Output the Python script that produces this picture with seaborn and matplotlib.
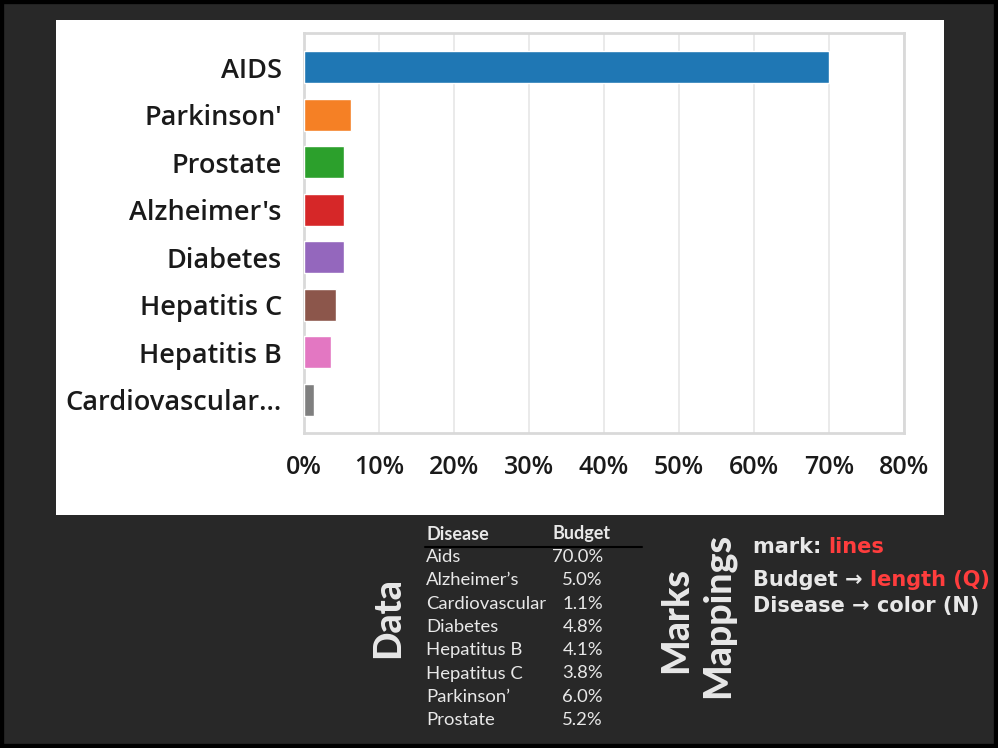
import matplotlib
matplotlib.use("Agg")
import matplotlib.pyplot as plt
from matplotlib.patches import Rectangle
from matplotlib.lines import Line2D
import seaborn as sns
import pandas as pd

# ---- data ----
chart_diseases = ["AIDS", "Parkinson'", "Prostate", "Alzheimer's", "Diabetes",
                  "Hepatitis C", "Hepatitis B", "Cardiovascular…"]
chart_budget = [70.0, 6.2, 5.3, 5.3, 5.3, 4.2, 3.6, 1.3]
bar_colors = ["#1f77b4", "#f58025", "#2ca02c", "#d62728", "#9467bd",
              "#8c564b", "#e377c2", "#7f7f7f"]
x_ticks = [0, 10, 20, 30, 40, 50, 60, 70, 80]
x_tick_labels = ["0%", "10%", "20%", "30%", "40%", "50%", "60%", "70%", "80%"]

table_diseases = ["Aids", "Alzheimer’s", "Cardiovascular", "Diabetes",
                  "Hepatitus B", "Hepatitus C", "Parkinson’", "Prostate"]
table_budget = ["70.0%", "5.0%", "1.1%", "4.8%", "4.1%", "3.8%", "6.0%", "5.2%"]

W, H = 998, 748
BG = "#282828"
FG = "#e8e8e8"
RED = "#ff3d3d"

sns.set_style("white")
plt.rcParams["font.family"] = ["Open Sans", "DejaVu Sans"]

fig = plt.figure(figsize=(W / 100, H / 100), dpi=100, facecolor=BG)


def fx(x):
    return x / W


def fy(y):
    return 1 - y / H


# white panel
fig.patches.append(Rectangle((fx(56), fy(515)), fx(944 - 56), (515 - 20) / H,
                             transform=fig.transFigure, facecolor="white",
                             edgecolor="none", zorder=-5))
# outer black border
fig.patches.append(Rectangle((0, 0), 1, 1, transform=fig.transFigure,
                             facecolor="none", edgecolor="black", linewidth=6, zorder=20))

ax = fig.add_axes([fx(304), fy(433), fx(904 - 304), (433 - 33) / H])
ax.set_zorder(5)
df = pd.DataFrame({"Disease": chart_diseases, "Budget": chart_budget})
sns.barplot(data=df, x="Budget", y="Disease", hue="Disease", palette=bar_colors,
            orient="h", width=0.675, saturation=1, legend=False, ax=ax, zorder=3)
ax.set_facecolor("white")
ax.set_xlim(0, 80)
ax.set_ylim(7.7, -0.72)
ax.set_xticks(x_ticks)
ax.set_xticklabels(x_tick_labels)
ax.set_xlabel("")
ax.set_ylabel("")
ax.grid(axis="x", color="#e8e8e8", linewidth=1.3, zorder=0)
ax.grid(axis="y", visible=False)
ax.set_axisbelow(True)
for s in ax.spines.values():
    s.set_visible(True)
    s.set_color("#d9d9d9")
    s.set_linewidth(2)
ax.tick_params(axis="both", length=0, labelcolor="#1a1a1a")
ax.tick_params(axis="y", pad=16, labelsize=19.5)
ax.tick_params(axis="x", pad=16, labelsize=18)
for t in ax.get_yticklabels() + ax.get_xticklabels():
    t.set_fontweight("semibold")

# ---- bottom annotations ----
heavy = ["Lato", "DejaVu Sans"]
fig.text(fx(388), fy(618), "Data", rotation=90, ha="center", va="center",
         color=FG, fontsize=27, fontweight="black", family=heavy)
fig.text(fx(676), fy(620), "Marks", rotation=90, ha="center", va="center",
         color=FG, fontsize=27, fontweight="black", family=heavy)
fig.text(fx(718), fy(615), "Mappings", rotation=90, ha="center", va="center",
         color=FG, fontsize=27, fontweight="black", family=heavy)

# table
fig.text(fx(426), fy(534), "Disease", ha="left", va="center", color=FG,
         fontsize=13, fontweight="bold", family=heavy)
fig.text(fx(553), fy(534), "Budget", ha="left", va="center", color=FG,
         fontsize=13, fontweight="bold", family=heavy)
fig.lines.append(Line2D([fx(425), fx(642)], [fy(547), fy(547)],
                        transform=fig.transFigure, color="black", linewidth=1.5))
row_y0, row_dy = 557, 23.3
for i, (d, b) in enumerate(zip(table_diseases, table_budget)):
    y = row_y0 + i * row_dy
    fig.text(fx(426), fy(y), d, ha="left", va="center", color=FG,
             fontsize=13.3, family=["Lato", "DejaVu Sans"])
    fig.text(fx(603), fy(y), b, ha="right", va="center", color=FG,
             fontsize=13.3, family=["Lato", "DejaVu Sans"])

# mappings text (chained pieces)
renderer = fig.canvas.get_renderer()


def chain(x0, y, pieces, fs=15):
    x = x0
    for s, c in pieces:
        t = fig.text(fx(x), fy(y), s, ha="left", va="center", color=c,
                     fontsize=fs, fontweight="bold", family=["DejaVu Sans"])
        bb = t.get_window_extent(renderer=renderer)
        x += bb.width


chain(753, 547, [("mark: ", FG), ("lines", RED)])
chain(753, 580, [("Budget ", FG), ("→ ", FG), ("length (Q)", RED)])
chain(753, 606, [("Disease ", FG), ("→ ", FG), ("color (N)", FG)])

fig.savefig("out.png", dpi=100, facecolor=BG)
